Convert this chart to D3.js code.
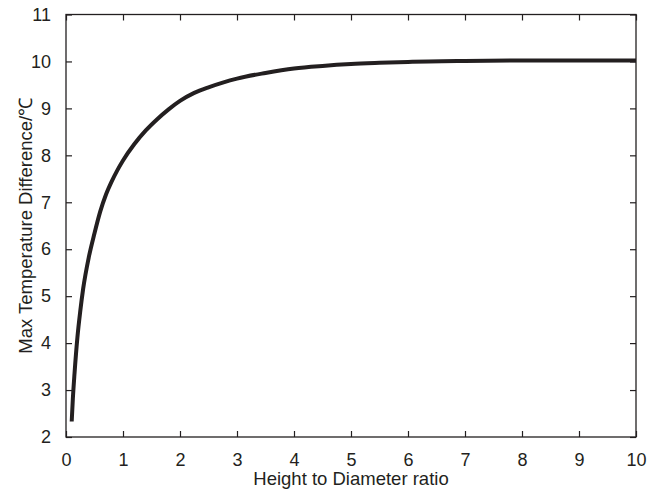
<!DOCTYPE html>
<html>
<head>
<meta charset="utf-8">
<script src="https://cdn.jsdelivr.net/npm/d3@7"></script>
<style>
  html, body { margin: 0; padding: 0; background: #fff; }
  svg { display: block; font-family: "Liberation Sans", Arial, sans-serif; }
</style>
</head>
<body>
<svg id="chart" width="659" height="489"></svg>
<script>
// Height-to-diameter ratio (x) and max temperature difference in ℃ (y)
const ratio = [0.10, 0.12, 0.15, 0.20, 0.25, 0.30, 0.40, 0.50, 0.60, 0.70, 0.80, 0.90, 1.00, 1.20, 1.40, 1.60, 1.80, 2.00, 2.25, 2.50, 2.75, 3.00, 3.50, 4.00, 4.50, 5.00, 5.50, 6.00, 7.00, 8.00, 9.00, 10.00];
const tempDiff = [2.33, 2.81, 3.36, 4.12, 4.68, 5.15, 5.83, 6.34, 6.80, 7.16, 7.44, 7.68, 7.89, 8.24, 8.53, 8.77, 8.98, 9.16, 9.33, 9.45, 9.55, 9.635, 9.755, 9.85, 9.905, 9.945, 9.97, 9.99, 10.01, 10.02, 10.02, 10.02];
const xTicks = [0, 1, 2, 3, 4, 5, 6, 7, 8, 9, 10];
const yTicks = [2, 3, 4, 5, 6, 7, 8, 9, 10, 11];
const xTitle = "Height to Diameter ratio";
const yTitle = "Max Temperature Difference/℃";

const svg = d3.select("#chart");
const m = { left: 66, right: 636, top: 14.5, bottom: 437 };

const x = d3.scaleLinear().domain([0, 10]).range([m.left, m.right]);
const y = d3.scaleLinear().domain([2, 11]).range([m.bottom, m.top]);

const axisColor = "#231f20";
const textColor = "#231f20";
const tickLen = 6;

// Frame ticks on all four sides, pointing inward
function styleAxis(g) {
  g.select(".domain").remove();
  g.selectAll(".tick line").attr("stroke", axisColor).attr("stroke-width", 1.2);
  g.selectAll(".tick text").attr("fill", textColor).attr("font-size", 18);
}

svg.append("g").attr("transform", `translate(0,${m.bottom})`)
  .call(d3.axisBottom(x).tickValues(xTicks).tickFormat(d3.format("d")).tickSizeInner(-tickLen).tickPadding(16))
  .call(styleAxis);
svg.append("g").attr("transform", `translate(0,${m.top})`)
  .call(d3.axisTop(x).tickValues(xTicks).tickFormat("").tickSizeInner(-tickLen))
  .call(styleAxis);
svg.append("g").attr("transform", `translate(${m.left},0)`)
  .call(d3.axisLeft(y).tickValues(yTicks).tickFormat(d3.format("d")).tickSizeInner(-tickLen).tickPadding(15))
  .call(styleAxis);
svg.append("g").attr("transform", `translate(${m.right},0)`)
  .call(d3.axisRight(y).tickValues(yTicks).tickFormat("").tickSizeInner(-tickLen))
  .call(styleAxis);

// Plot frame
svg.append("rect")
  .attr("x", m.left).attr("y", m.top)
  .attr("width", m.right - m.left).attr("height", m.bottom - m.top)
  .attr("fill", "none").attr("stroke", axisColor).attr("stroke-width", 1.3);

// Curve
const pts = ratio.map((r, i) => [r, tempDiff[i]]);
svg.append("path")
  .datum(pts)
  .attr("fill", "none")
  .attr("stroke", "#231f20")
  .attr("stroke-width", 4)
  .attr("stroke-linejoin", "round")
  .attr("d", d3.line().x(d => x(d[0])).y(d => y(d[1])).curve(d3.curveMonotoneX));

// Axis titles
svg.append("text")
  .attr("x", (m.left + m.right) / 2).attr("y", 485)
  .attr("text-anchor", "middle").attr("font-size", 18.5).attr("fill", textColor)
  .text(xTitle);
svg.append("text")
  .attr("transform", `translate(32,${(m.top + m.bottom) / 2}) rotate(-90)`)
  .attr("text-anchor", "middle").attr("font-size", 18.5).attr("fill", textColor)
  .text(yTitle);
</script>
</body>
</html>
